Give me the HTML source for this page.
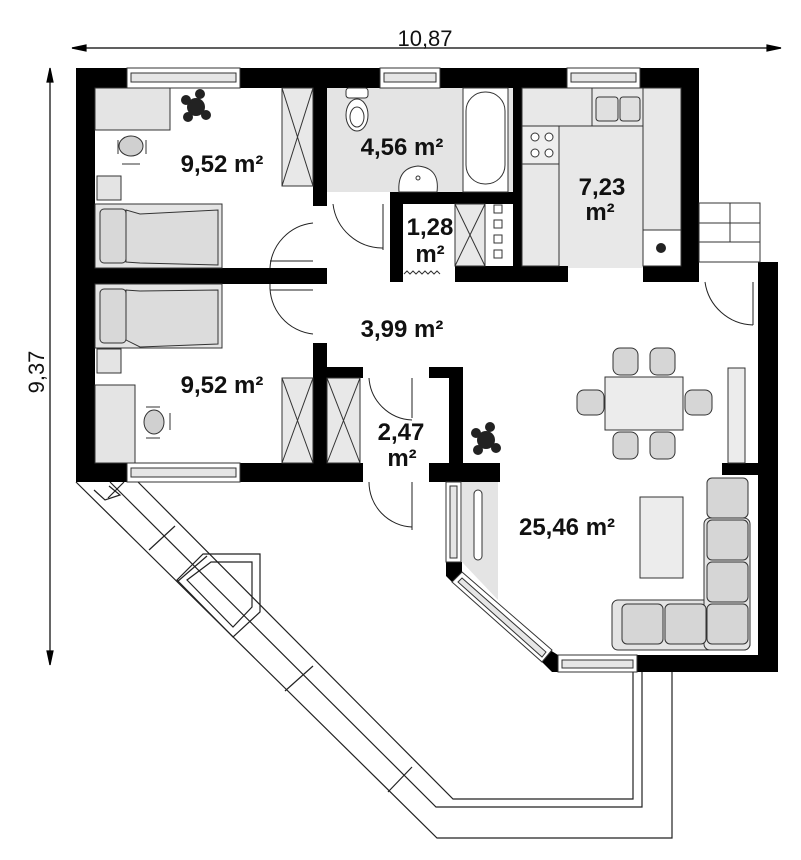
<!DOCTYPE html>
<html><head><meta charset="utf-8"><style>
html,body{margin:0;padding:0;background:#fff;}
svg{display:block;}
text{font-family:"Liberation Sans",sans-serif;font-weight:bold;fill:#111;}
</style></head><body>
<svg width="801" height="860" viewBox="0 0 801 860" xmlns="http://www.w3.org/2000/svg">
<g stroke="#000" stroke-width="1.2" fill="#000">
<line x1="72" y1="48" x2="781" y2="48"/>
<polygon points="72,48 86,45 86,51"/><polygon points="781,48 767,45 767,51"/>
<line x1="50" y1="68" x2="50" y2="665"/>
<polygon points="50,68 47,82 53,82"/><polygon points="50,665 47,651 53,651"/>
</g>
<text x="425" y="46" font-size="22" text-anchor="middle" style="font-weight:normal">10,87</text>
<text transform="translate(44,372) rotate(-90)" font-size="22" text-anchor="middle" style="font-weight:normal">9,37</text>

<g fill="none" stroke="#222" stroke-width="1.2">
<polyline points="76,482 437,838 672,838 672,672"/>
<polyline points="138,482 453,799 633,799 633,672"/>
<polyline points="110,482 436,807 642,807 642,672"/>
<polyline points="94,490 105,500 120,495 109,486"/>
<line x1="124" y1="482" x2="108" y2="498"/>
<line x1="175" y1="526" x2="149" y2="550"/>
<line x1="207" y1="556" x2="177" y2="582"/>
<polygon points="203,554 260,554 260,612 233,637 177,580"/>
<polygon points="211,562 252,562 252,607 233,627 187,580"/>
<line x1="313" y1="666" x2="285" y2="691"/>
<line x1="412" y1="767" x2="388" y2="792"/>
</g>

<rect x="327" y="88" width="186" height="104" fill="#e4e4e4"/>
<rect x="522" y="88" width="159" height="180" fill="#e8e8e8"/>

<g fill="#000">
<rect x="76" y="68" width="623" height="20"/>
<rect x="76" y="68" width="19" height="414"/>
<rect x="76" y="463" width="287" height="19"/>
<rect x="681" y="68" width="18" height="214"/>
<rect x="643" y="266" width="56" height="16"/>
<rect x="455" y="266" width="113" height="16"/>
<rect x="513" y="88" width="9" height="194"/>
<rect x="313" y="88" width="14" height="118"/>
<rect x="390" y="192" width="125" height="12"/>
<rect x="390" y="192" width="13" height="90"/>
<rect x="95" y="268" width="232" height="16"/>
<rect x="313" y="343" width="14" height="139"/>
<rect x="327" y="367" width="36" height="11"/>
<rect x="429" y="367" width="34" height="11"/>
<rect x="449" y="367" width="14" height="115"/>
<rect x="429" y="463" width="71" height="19"/>
<rect x="758" y="262" width="20" height="410"/>
<rect x="637" y="655" width="141" height="17"/>
<rect x="722" y="463" width="36" height="12"/>
<polygon points="446,562 462,562 462,572 452,582 446,576"/>
<polygon points="540,660 550,650 558,655 558,672 552,672"/>
</g>
<g fill="#fff" stroke="#333" stroke-width="1">
<rect x="127" y="68" width="113" height="20"/><rect x="131" y="73" width="105" height="9" fill="#e6e6e6"/>
<rect x="380" y="68" width="60" height="20"/><rect x="384" y="73" width="52" height="9" fill="#e6e6e6"/>
<rect x="567" y="68" width="73" height="20"/><rect x="571" y="73" width="65" height="9" fill="#e6e6e6"/>
<rect x="127" y="463" width="113" height="19"/><rect x="131" y="468" width="105" height="9" fill="#e6e6e6"/>
<rect x="558" y="655" width="79" height="17"/><rect x="562" y="660" width="71" height="8" fill="#e6e6e6"/>
<rect x="446" y="482" width="15" height="80"/><rect x="450" y="486" width="7" height="72" fill="#e6e6e6"/>
<polygon points="462,572 552,650 542,662 452,582"/>
<polygon points="462,578 546,652 542,657 458,582" fill="#e6e6e6"/>
</g>
<rect x="462" y="482" width="36" height="80" fill="#e4e4e4"/>
<path d="M462,562 L498,562 L498,600 Z" fill="#e4e4e4"/>
<rect x="474" y="490" width="8" height="70" rx="4" fill="#fff" stroke="#333"/>

<g stroke="#333" stroke-width="1">
<rect x="95" y="88" width="75" height="42" fill="#e4e4e4"/>
<rect x="97" y="176" width="24" height="24" fill="#e4e4e4"/>
<rect x="95" y="204" width="127" height="64" fill="#e4e4e4"/>
<rect x="100" y="209" width="26" height="54" rx="4" fill="#d8d8d8"/>
<path d="M126,210 L140,214 L218,210 L218,265 L140,263 L126,262 Z" fill="#dcdcdc"/>
<ellipse cx="131" cy="146" rx="12" ry="10" fill="#d0d0d0"/>
<line x1="118" y1="140" x2="118" y2="154"/><line x1="146" y1="140" x2="146" y2="154"/>
<line x1="122" y1="164" x2="140" y2="164"/>
<rect x="282" y="88" width="31" height="98" fill="#e8e8e8"/>
<path d="M282,88 L313,186 M313,88 L282,186" fill="none"/>
<rect x="95" y="284" width="127" height="64" fill="#e4e4e4"/>
<rect x="100" y="289" width="26" height="54" rx="4" fill="#d8d8d8"/>
<path d="M126,290 L140,291 L218,290 L218,344 L140,347 L126,340 Z" fill="#dcdcdc"/>
<rect x="97" y="349" width="24" height="24" fill="#e4e4e4"/>
<rect x="95" y="385" width="40" height="78" fill="#e4e4e4"/>
<ellipse cx="154" cy="422" rx="10" ry="12" fill="#d0d0d0"/>
<line x1="146" y1="407" x2="160" y2="407"/><line x1="146" y1="438" x2="160" y2="438"/>
<line x1="170" y1="413" x2="170" y2="430"/>
<rect x="282" y="378" width="31" height="85" fill="#e8e8e8"/>
<path d="M282,378 L313,463 M313,378 L282,463" fill="none"/>
<rect x="327" y="378" width="33" height="85" fill="#e8e8e8"/>
<path d="M327,378 L360,463 M360,378 L327,463" fill="none"/>
<rect x="346" y="88" width="22" height="10" rx="3" fill="#fff"/>
<ellipse cx="357" cy="115" rx="11" ry="16" fill="#fff"/>
<ellipse cx="357" cy="117" rx="7" ry="10" fill="#fff"/>
<path d="M399,192 Q397,168 418,166 Q440,168 437,192 Z" fill="#fff"/>
<circle cx="418" cy="178" r="2" fill="#fff"/>
<rect x="463" y="88" width="45" height="104" fill="#fff"/>
<rect x="466" y="92" width="39" height="92" rx="19" fill="#fff"/>
<rect x="455" y="204" width="30" height="62" fill="#e8e8e8"/>
<path d="M455,204 L485,266 M485,204 L455,266" fill="none"/>
<g fill="#fff"><rect x="494" y="205" width="8" height="8"/><rect x="494" y="220" width="8" height="8"/><rect x="494" y="235" width="8" height="8"/><rect x="494" y="250" width="8" height="8"/></g>
<path d="M404,274 l3,-3 l3,3 l3,-3 l3,3 l3,-3 l3,3 l3,-3 l3,3 l3,-3 l3,3 l3,-3 l3,3" fill="none"/>
<rect x="522" y="88" width="70" height="38" fill="#e8e8e8"/>
<rect x="592" y="88" width="51" height="38" fill="#e8e8e8"/>
<rect x="596" y="97" width="22" height="24" rx="3" fill="#e0e0e0"/><rect x="620" y="97" width="20" height="24" rx="3" fill="#e0e0e0"/>
<rect x="643" y="88" width="38" height="142" fill="#e8e8e8"/>
<rect x="522" y="126" width="37" height="38" fill="#eee"/>
<rect x="522" y="164" width="37" height="102" fill="#e8e8e8"/>
<rect x="643" y="230" width="38" height="36" fill="#fff"/>
<g fill="#fff"><circle cx="535" cy="137" r="4"/><circle cx="549" cy="137" r="4"/><circle cx="535" cy="153" r="4"/><circle cx="549" cy="153" r="4"/></g>
<rect x="699" y="203" width="61" height="59" fill="#fff"/>
<line x1="699" y1="223" x2="760" y2="223"/><line x1="699" y1="242" x2="760" y2="242"/>
<line x1="730" y1="203" x2="730" y2="242"/>
<rect x="605" y="377" width="78" height="53" fill="#ececec"/>
<g fill="#d6d6d6">
<rect x="613" y="348" width="25" height="27" rx="7"/><rect x="650" y="348" width="25" height="27" rx="7"/>
<rect x="613" y="432" width="25" height="27" rx="7"/><rect x="650" y="432" width="25" height="27" rx="7"/>
<rect x="577" y="390" width="27" height="25" rx="7"/><rect x="685" y="390" width="27" height="25" rx="7"/>
</g>
<rect x="728" y="368" width="17" height="95" fill="#ececec"/>
<rect x="640" y="497" width="43" height="81" fill="#ececec"/>
<rect x="612" y="600" width="138" height="50" rx="6" fill="#e4e4e4"/>
<rect x="704" y="518" width="46" height="132" rx="6" fill="#e4e4e4"/>
<g fill="#d6d6d6">
<rect x="707" y="478" width="41" height="40" rx="5"/><rect x="707" y="520" width="41" height="40" rx="5"/>
<rect x="707" y="562" width="41" height="40" rx="5"/><rect x="707" y="604" width="41" height="40" rx="5"/>
<rect x="622" y="604" width="41" height="40" rx="5"/><rect x="665" y="604" width="41" height="40" rx="5"/>
</g>
</g>

<g fill="#222">
<circle cx="196" cy="107" r="9"/><circle cx="186" cy="100" r="5"/><circle cx="206" cy="115" r="5"/><circle cx="200" cy="94" r="5"/><circle cx="188" cy="117" r="5"/>
<circle cx="486" cy="440" r="9"/><circle cx="476" cy="433" r="5"/><circle cx="496" cy="448" r="5"/><circle cx="490" cy="427" r="5"/><circle cx="478" cy="450" r="5"/>
<circle cx="661" cy="248" r="5"/>
</g>

<g fill="none" stroke="#222" stroke-width="1">
<path d="M270,268 A48,48 0 0 1 313,223"/><line x1="270" y1="261" x2="313" y2="261"/>
<path d="M270,284 A48,48 0 0 0 313,334"/><line x1="270" y1="290" x2="313" y2="290"/>
<path d="M333,204 A50,50 0 0 0 383,248"/><line x1="383" y1="204" x2="383" y2="250"/>
<path d="M369,378 A45,45 0 0 0 412,420"/><line x1="412" y1="378" x2="412" y2="418"/>
<path d="M369,482 A45,45 0 0 0 412,527"/><line x1="412" y1="482" x2="412" y2="530"/>
<path d="M705,282 A50,50 0 0 0 753,325"/><line x1="753" y1="282" x2="753" y2="325"/>
</g>

<g font-size="24">
<text x="222" y="172" text-anchor="middle">9,52 m²</text>
<text x="222" y="393" text-anchor="middle">9,52 m²</text>
<text x="402" y="155" text-anchor="middle">4,56 m²</text>
<text x="430" y="235" text-anchor="middle">1,28</text>
<text x="430" y="262" text-anchor="middle">m²</text>
<text x="602" y="195" text-anchor="middle">7,23</text>
<text x="600" y="220" text-anchor="middle">m²</text>
<text x="402" y="337" text-anchor="middle">3,99 m²</text>
<text x="401" y="440" text-anchor="middle">2,47</text>
<text x="402" y="466" text-anchor="middle">m²</text>
<text x="567" y="535" text-anchor="middle">25,46 m²</text>
</g>
</svg>
</body></html>
